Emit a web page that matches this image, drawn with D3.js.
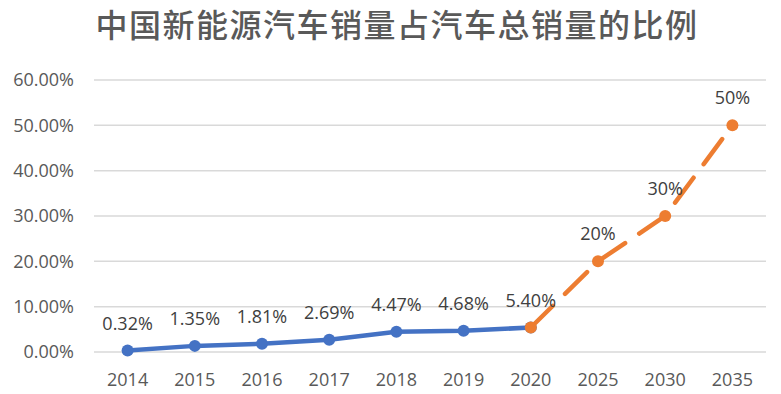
<!DOCTYPE html>
<html lang="zh">
<head>
<meta charset="UTF-8">
<title>中国新能源汽车销量占汽车总销量的比例</title>
<script src="https://cdn.jsdelivr.net/npm/d3@7"></script>
<style>
	body { margin: 0; background: #fff; }
	text { font-family: "Open Sans", "Noto Sans", sans-serif; }
	.title { font-family: "Noto Sans CJK SC", sans-serif; font-weight: 500; fill: #595959; }
	.axis text { fill: #595959; font-size: 18px; font-family: "Open Sans", sans-serif; }
	.grid line { stroke: #d9d9d9; stroke-width: 1.5px; }
	.lbl { fill: #404040; font-size: 18px; }
</style>
</head>
<body>
<script>
var years = ['2014', '2015', '2016', '2017', '2018', '2019', '2020', '2025', '2030', '2035'];
var actual = [0.32, 1.35, 1.81, 2.69, 4.47, 4.68, 5.40];
var actualLabels = ['0.32%', '1.35%', '1.81%', '2.69%', '4.47%', '4.68%', '5.40%'];
var targetYears = ['2020', '2025', '2030', '2035'];
var target = [5.40, 20, 30, 50];
var targetLabels = ['', '20%', '30%', '50%'];
var yTicks = [0, 10, 20, 30, 40, 50, 60];

var W = 781, H = 394;
var margin = { top: 80, left: 94, right: 15, bottom: 42 };
var width = W - margin.left - margin.right;
var height = H - margin.top - margin.bottom;

var svg = d3.select('body').append('svg')
	.attr('width', W)
	.attr('height', H);

svg.append('text')
	.attr('class', 'title')
	.attr('x', 397)
	.attr('y', 37)
	.attr('text-anchor', 'middle')
	.style('font-size', '32px')
	.style('letter-spacing', '1.5px')
	.text('中国新能源汽车销量占汽车总销量的比例');

var g = svg.append('g')
	.attr('transform', 'translate(' + margin.left + ',' + margin.top + ')');

var x = d3.scaleBand().domain(years).range([0, width]);
var y = d3.scaleLinear().domain([0, 60]).range([height, 0]);
var cx = function (k) { return x(k) + x.bandwidth() / 2; };

// gridlines
g.append('g').attr('class', 'grid')
	.selectAll('line').data(yTicks).enter().append('line')
	.attr('x1', 0).attr('x2', width)
	.attr('y1', function (d) { return y(d); })
	.attr('y2', function (d) { return y(d); });

// y axis labels
g.append('g').attr('class', 'axis')
	.attr('transform', 'translate(-17,0)')
	.call(d3.axisLeft(y).tickValues(yTicks).tickSize(0).tickFormat(function (d) { return d.toFixed(2) + '%'; }))
	.call(function (a) { a.select('.domain').remove(); });

// x axis labels
g.append('g').attr('class', 'axis')
	.attr('transform', 'translate(0,' + height + ')')
	.call(d3.axisBottom(x).tickSize(0).tickPadding(21))
	.call(function (a) { a.select('.domain').remove(); });

// actual series
var line = d3.line()
	.x(function (d, i) { return cx(years[i]); })
	.y(function (d) { return y(d); });

g.append('path')
	.datum(actual)
	.attr('d', line)
	.attr('fill', 'none')
	.attr('stroke', '#4472C4')
	.attr('stroke-width', 4.5)
	.attr('stroke-linejoin', 'round');

g.selectAll('.pA').data(actual).enter().append('circle')
	.attr('cx', function (d, i) { return cx(years[i]); })
	.attr('cy', function (d) { return y(d); })
	.attr('r', 6)
	.attr('fill', '#4472C4');

// target series
var line2 = d3.line()
	.x(function (d, i) { return cx(targetYears[i]); })
	.y(function (d) { return y(d); });

g.append('path')
	.datum(target)
	.attr('d', line2)
	.attr('fill', 'none')
	.attr('stroke', '#ED7D31')
	.attr('stroke-width', 4.5)
	.attr('stroke-linecap', 'round')
	.attr('stroke-dasharray', '31,17');

g.selectAll('.pT').data(target).enter().append('circle')
	.attr('cx', function (d, i) { return cx(targetYears[i]); })
	.attr('cy', function (d) { return y(d); })
	.attr('r', 6)
	.attr('fill', '#ED7D31');

// data labels
g.selectAll('.lA').data(actual).enter().append('text')
	.attr('class', 'lbl')
	.attr('x', function (d, i) { return cx(years[i]); })
	.attr('y', function (d) { return y(d) - 21; })
	.attr('text-anchor', 'middle')
	.text(function (d, i) { return actualLabels[i]; });

g.selectAll('.lT').data(target).enter().append('text')
	.attr('class', 'lbl')
	.attr('x', function (d, i) { return cx(targetYears[i]); })
	.attr('y', function (d) { return y(d) - 21; })
	.attr('text-anchor', 'middle')
	.text(function (d, i) { return targetLabels[i]; });
</script>
</body>
</html>
